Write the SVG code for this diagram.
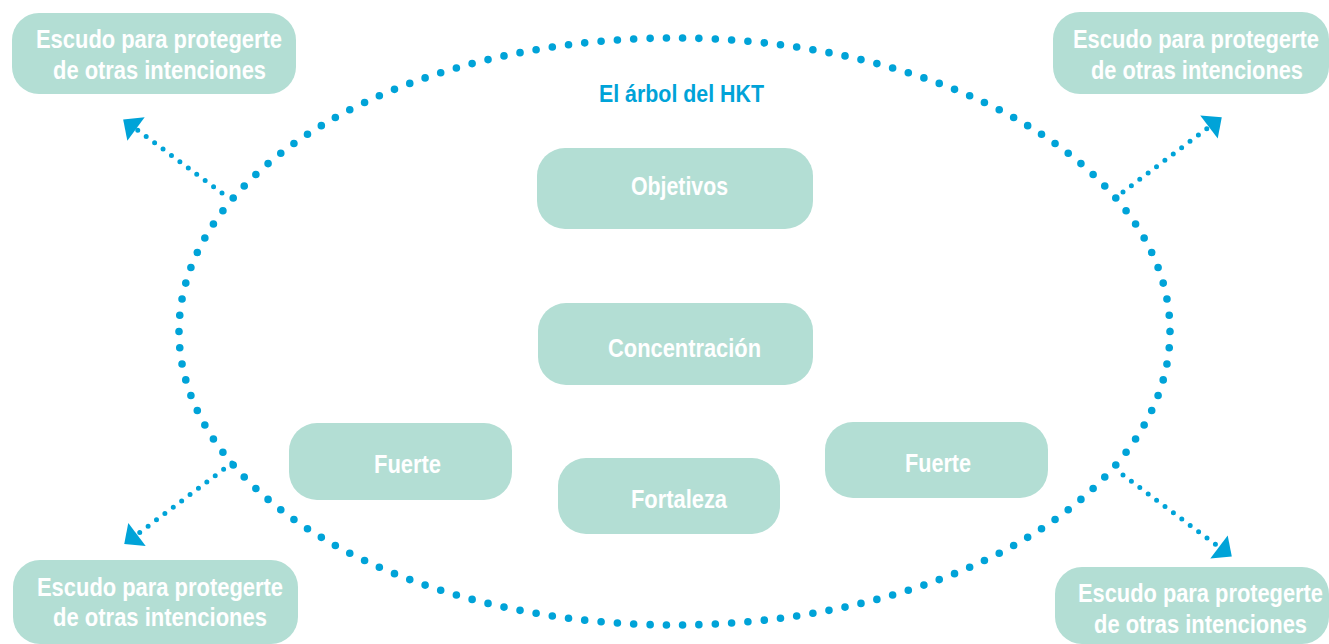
<svg xmlns="http://www.w3.org/2000/svg" width="1329" height="644" viewBox="0 0 1329 644">
<style>
.box{fill:#b3ded4}
.t{font-family:"Liberation Sans",Arial,sans-serif;font-weight:bold;fill:#ffffff;font-size:25px}
.title{font-family:"Liberation Sans",Arial,sans-serif;font-weight:bold;fill:#00a3d8;font-size:23px}
.ring{fill:none;stroke:#00a3d8;stroke-width:7.6;stroke-linecap:round;stroke-dasharray:0 1}
.arr{fill:none;stroke:#00a3d8;stroke-width:5;stroke-linecap:round;stroke-dasharray:0 10.5}
</style>
<defs>
<marker id="ah" markerUnits="userSpaceOnUse" markerWidth="20" markerHeight="32" viewBox="0 -16 18 32" refX="0" refY="0" orient="auto">
<path d="M16,0 L0,-14.5 L0,14.5 Z" fill="#00a3d8"/>
</marker>
</defs>
<rect width="1329" height="644" fill="#ffffff"/>
<g id="connectors">
<ellipse class="ring" cx="674.5" cy="331.5" rx="495.5" ry="293.5" pathLength="154"/>
<line class="arr" x1="222" y1="193" x2="136" y2="129" marker-end="url(#ah)"/>
<line class="arr" x1="1123" y1="192" x2="1209" y2="127" marker-end="url(#ah)"/>
<line class="arr" x1="232" y1="463" x2="137" y2="534.5" marker-end="url(#ah)"/>
<line class="arr" x1="1123" y1="475" x2="1219" y2="547" marker-end="url(#ah)"/>
</g>
<g id="title">
<text class="title" x="599" y="102" textLength="165" lengthAdjust="spacingAndGlyphs">El árbol del HKT</text>
</g>
<g id="shield-tl">
<rect class="box" x="12" y="13" width="284" height="81" rx="27"/>
<text class="t" x="36" y="48" textLength="246" lengthAdjust="spacingAndGlyphs">Escudo para protegerte</text>
<text class="t" x="53" y="79" textLength="213" lengthAdjust="spacingAndGlyphs">de otras intenciones</text>
</g>
<g id="shield-tr">
<rect class="box" x="1053" y="12" width="276" height="82" rx="27"/>
<text class="t" x="1073" y="48" textLength="246" lengthAdjust="spacingAndGlyphs">Escudo para protegerte</text>
<text class="t" x="1091" y="79" textLength="212" lengthAdjust="spacingAndGlyphs">de otras intenciones</text>
</g>
<g id="shield-bl">
<rect class="box" x="13" y="560" width="285" height="84" rx="27"/>
<text class="t" x="37" y="596" textLength="246" lengthAdjust="spacingAndGlyphs">Escudo para protegerte</text>
<text class="t" x="53" y="626" textLength="214" lengthAdjust="spacingAndGlyphs">de otras intenciones</text>
</g>
<g id="shield-br">
<rect class="box" x="1055" y="567" width="274" height="77" rx="27"/>
<text class="t" x="1078" y="602" textLength="245" lengthAdjust="spacingAndGlyphs">Escudo para protegerte</text>
<text class="t" x="1094" y="633" textLength="213" lengthAdjust="spacingAndGlyphs">de otras intenciones</text>
</g>
<g id="objetivos">
<rect class="box" x="537" y="148" width="276" height="81" rx="28"/>
<text class="t" x="631" y="195" textLength="97" lengthAdjust="spacingAndGlyphs">Objetivos</text>
</g>
<g id="concentracion">
<rect class="box" x="538" y="303" width="275" height="82" rx="28"/>
<text class="t" x="608" y="357" textLength="153" lengthAdjust="spacingAndGlyphs">Concentración</text>
</g>
<g id="fuerte-left">
<rect class="box" x="289" y="423" width="223" height="77" rx="28"/>
<text class="t" x="374" y="473" textLength="67" lengthAdjust="spacingAndGlyphs">Fuerte</text>
</g>
<g id="fortaleza">
<rect class="box" x="558" y="458" width="222" height="76" rx="28"/>
<text class="t" x="631" y="508" textLength="96" lengthAdjust="spacingAndGlyphs">Fortaleza</text>
</g>
<g id="fuerte-right">
<rect class="box" x="825" y="422" width="223" height="76" rx="28"/>
<text class="t" x="905" y="472" textLength="66" lengthAdjust="spacingAndGlyphs">Fuerte</text>
</g>
</svg>
